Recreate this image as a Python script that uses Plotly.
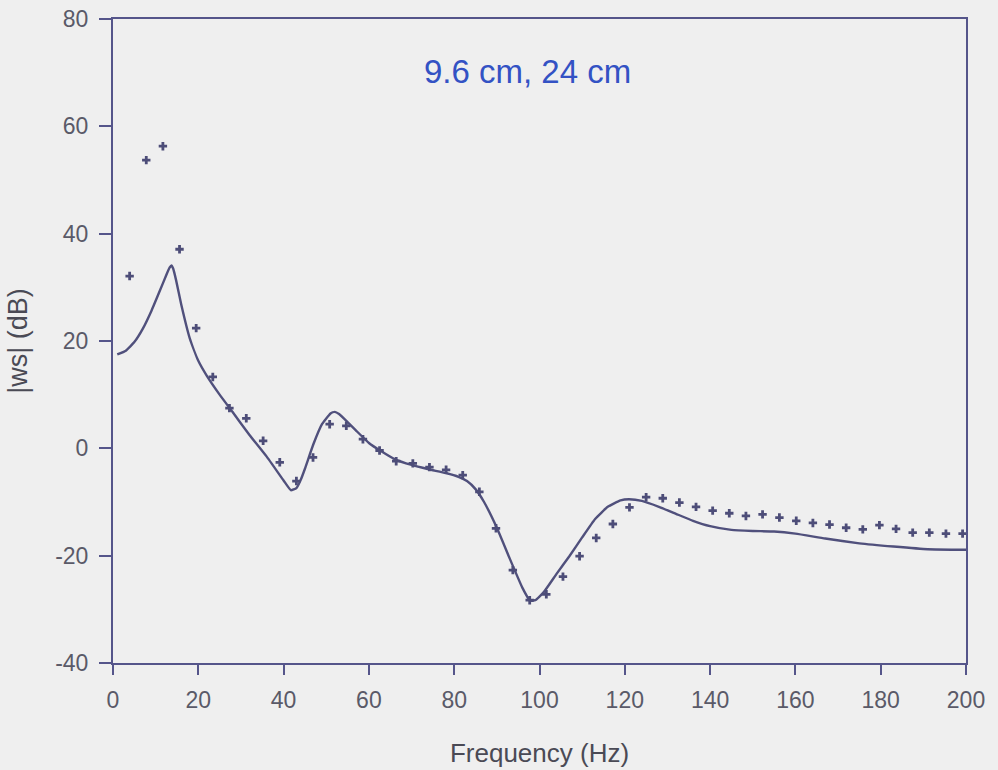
import plotly.graph_objects as go

# Measured points (crosses)
meas_freq = [3.9, 7.8, 11.7, 15.6, 19.5, 23.4, 27.3, 31.25, 35.2, 39.1,
             43.0, 46.9, 50.8, 54.7, 58.6, 62.5, 66.4, 70.3, 74.2, 78.1,
             82.0, 85.9, 89.8, 93.75, 97.7, 101.6, 105.5, 109.4, 113.3, 117.2,
             121.1, 125.0, 128.9, 132.8, 136.7, 140.6, 144.5, 148.4, 152.3, 156.25,
             160.2, 164.1, 168.0, 171.9, 175.8, 179.7, 183.6, 187.5, 191.4, 195.3,
             199.2]
meas_db = [32.1, 53.7, 56.3, 37.1, 22.4, 13.3, 7.5, 5.6, 1.4, -2.6,
           -6.1, -1.7, 4.5, 4.2, 1.7, -0.4, -2.4, -2.8, -3.5, -4.0,
           -5.0, -8.1, -14.9, -22.7, -28.3, -27.2, -23.9, -20.1, -16.7, -14.1,
           -11.0, -9.1, -9.3, -10.1, -10.9, -11.6, -12.1, -12.6, -12.3, -12.9,
           -13.5, -13.9, -14.2, -14.8, -15.1, -14.3, -15.0, -15.7, -15.7, -15.9,
           -15.9]

# Predicted curve
pred_freq = [1, 3, 5, 7, 9, 11, 12.5, 13.3, 13.7, 14.1, 14.8, 16, 18, 20, 22, 25, 28, 32,
             36, 40, 41.7, 43, 44, 45, 47, 49, 51, 52, 53, 55, 57, 60, 63, 66, 70, 74, 78,
             81, 83, 85, 87, 90, 93, 96, 97.8, 99, 101, 104, 107, 110, 113, 116, 119, 121,
             124, 128, 132, 136, 140, 145, 150, 155, 160, 167, 175, 183, 191, 200]
pred_db = [17.5, 18.2, 19.8, 22.3, 25.6, 29.4, 32.3, 33.7, 34.1, 33.5, 31.3, 26.8, 20.5,
           16.3, 13.5, 10.0, 6.8, 2.5, -1.5, -6.0, -7.8, -7.4, -5.9, -3.8, 0.8, 4.5,
           6.5, 6.8, 6.4, 4.9, 3.3, 1.0, -0.6, -2.0, -3.1, -3.9, -4.6, -5.3, -6.1, -7.6,
           -10.0, -14.8, -20.5, -26.0, -28.4, -28.3, -26.8, -23.4, -20.1, -16.6, -13.2,
           -10.9, -9.7, -9.5, -9.8, -10.9, -12.2, -13.5, -14.5, -15.2, -15.4, -15.5,
           -15.9, -16.8, -17.7, -18.3, -18.8, -18.9]

x_ticks = [0, 20, 40, 60, 80, 100, 120, 140, 160, 180, 200]
x_tick_labels = ["0", "20", "40", "60", "80", "100", "120", "140", "160", "180", "200"]
y_ticks = [-40, -20, 0, 20, 40, 60, 80]
y_tick_labels = ["-40", "-20", "0", "20", "40", "60", "80"]

axis_col = "#55558a"
mark_col = "#4d4d78"
FONT = "Liberation Sans, Arial, sans-serif"
tick_font = dict(family=FONT, size=23, color="#5a5a68")

fig = go.Figure()
fig.add_trace(go.Scatter(x=pred_freq, y=pred_db, mode="lines",
                         line=dict(color="#50507c", width=2.4, shape="spline", smoothing=0.4),
                         showlegend=False, hoverinfo="skip"))
fig.add_trace(go.Scatter(x=meas_freq, y=meas_db, mode="markers",
                         marker=dict(symbol="cross", size=7, color=mark_col, line=dict(width=0)),
                         showlegend=False))

fig.update_layout(
    width=998, height=770,
    margin=dict(l=113, r=32, t=19, b=107),
    paper_bgcolor="#efefef", plot_bgcolor="#efefef",
    xaxis=dict(range=[0, 200], tickvals=x_ticks, ticktext=x_tick_labels,
               showgrid=False, zeroline=False, automargin=False,
               showline=True, mirror=True, linecolor=axis_col, linewidth=2,
               ticks="outside", ticklen=10, tickwidth=1.5, tickcolor=axis_col,
               tickfont=tick_font, ticklabelstandoff=5,
               title=dict(text="Frequency (Hz)", standoff=32,
                          font=dict(family=FONT, size=26, color="#4a4a55"))),
    yaxis=dict(range=[-40, 80], tickvals=y_ticks, ticktext=y_tick_labels,
               showgrid=False, zeroline=False, automargin=False,
               showline=True, mirror=True, linecolor=axis_col, linewidth=2,
               ticks="outside", ticklen=12, tickwidth=1.5, tickcolor=axis_col,
               tickfont=tick_font, ticklabelstandoff=6,
               title=dict(text="|ws| (dB)", standoff=20,
                          font=dict(family=FONT, size=27, color="#4a4a55"))),
    annotations=[dict(text="9.6 cm, 24 cm", xref="paper", yref="paper",
                      x=0.4865, y=0.918, showarrow=False, xanchor="center", yanchor="middle",
                      font=dict(family=FONT, size=33, color="#3352c4"))],
)

fig.write_html("out.html")
